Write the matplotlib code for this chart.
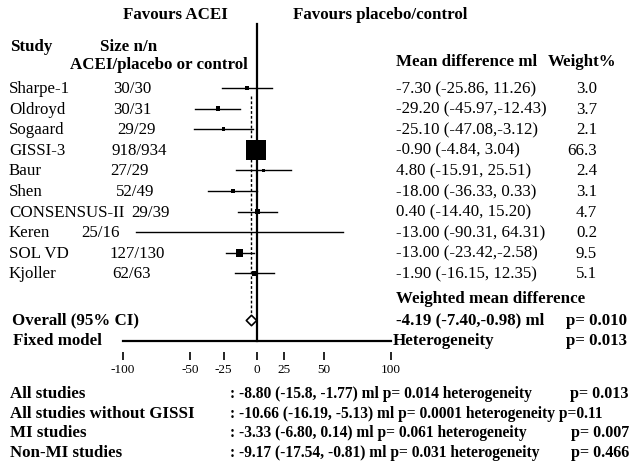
import matplotlib.pyplot as plt

plt.rcParams["font.family"] = ["Liberation Serif", "DejaVu Serif"]
plt.rcParams["font.size"] = 12.2

# data
studies = ["Sharpe-1", "Oldroyd", "Sogaard", "GISSI-3", "Baur", "Shen",
           "CONSENSUS-II", "Keren", "SOL VD", "Kjoller"]
sizes = ["30/30", "30/31", "29/29", "918/934", "27/29", "52/49",
         "29/39", "25/16", "127/130", "62/63"]
mean_diff = [-7.30, -29.20, -25.10, -0.90, 4.80, -18.00, 0.40, -13.00, -13.00, -1.90]
ci_low = [-25.86, -45.97, -47.08, -4.84, -15.91, -36.33, -14.40, -90.31, -23.42, -16.15]
ci_high = [11.26, -12.43, -3.12, 3.04, 25.51, 0.33, 15.20, 64.31, -2.58, 12.35]
weights = [3.0, 3.7, 2.1, 66.3, 2.4, 3.1, 4.7, 0.2, 9.5, 5.1]
md_labels = ["-7.30 (-25.86, 11.26)", "-29.20 (-45.97,-12.43)", "-25.10 (-47.08,-3.12)",
             "-0.90 (-4.84, 3.04)", "4.80 (-15.91, 25.51)", "-18.00 (-36.33, 0.33)",
             "0.40 (-14.40, 15.20)", "-13.00 (-90.31, 64.31)", "-13.00 (-23.42,-2.58)",
             "-1.90 (-16.15, 12.35)"]
overall = -4.19
tick_labels = ["-100", "-50", "-25", "0", "25", "50", "100"]
tick_pos = [-100, -50, -25, 0, 20, 50, 100]   # as drawn in the original

summary_names = ["All studies", "All studies without GISSI", "MI studies", "Non-MI studies"]
summary_text = [": -8.80 (-15.8, -1.77) ml p= 0.014 heterogeneity",
                ": -10.66 (-16.19, -5.13) ml p= 0.0001 heterogeneity p=0.11",
                ": -3.33 (-6.80, 0.14) ml p= 0.061 heterogeneity",
                ": -9.17 (-17.54, -0.81) ml p= 0.031 heterogeneity"]
summary_p = ["p= 0.013", "", "p= 0.007", "p= 0.466"]

W, H = 632, 464
fig = plt.figure(figsize=(W / 100, H / 100), dpi=100)
ax = fig.add_axes([0, 0, 1, 1])
# 0 at 257 px, 1.34 px per ml; rows 20.6 px apart starting at 89 px
ax.set_xlim(-257 / 1.34, (W - 257) / 1.34)
ax.set_ylim((H - 89) / 20.6, -89 / 20.6)
ax.axis("off")

rows = list(range(len(studies)))
tr = ax.get_yaxis_transform()


def px(x):
    return x / W


# study lines and boxes
for r, lo, hi in zip(rows, ci_low, ci_high):
    ax.plot([lo, hi], [r, r], color="black", lw=1)
ax.scatter(mean_diff, rows, s=[w * 3.1 for w in weights], marker="s",
           color="black", zorder=3, linewidths=0)

# reference line, pooled dotted line, diamond
ax.plot([0, 0], [-3.1, 12.28], color="black", lw=1.6)
ax.plot([overall, overall], [0.4, 11.05], color="black", lw=1, ls=(0, (2, 1.5)))
ax.scatter([overall], [11.25], marker="D", s=28, facecolor="white",
           edgecolor="black", linewidths=1.2, zorder=3)
ax.plot([-100, 100], [12.28, 12.28], color="black", lw=1.6)

# headers
ax.text(px(175), -3.6, "Favours ACEI", transform=tr, ha="center", va="center", weight="bold")
ax.text(px(380), -3.6, "Favours placebo/control", transform=tr, ha="center", va="center", weight="bold")
ax.text(px(10), -2.05, "Study", transform=tr, va="center", weight="bold")
ax.text(px(100), -2.05, "Size n/n", transform=tr, va="center", weight="bold")
ax.text(px(70), -1.18, "ACEI/placebo or control", transform=tr, va="center", weight="bold")
ax.text(px(396), -1.3, "Mean difference ml", transform=tr, va="center", weight="bold")
ax.text(px(548), -1.3, "Weight%", transform=tr, va="center", weight="bold")

# study rows
size_x = [113, 113, 117, 112, 110, 116, 131, 81, 110, 112]
for r, name, sz, sx, md, w in zip(rows, studies, sizes, size_x, md_labels, weights):
    ax.text(px(9), r, name, transform=tr, va="center")
    ax.text(px(sx), r, sz, transform=tr, va="center")
    ax.text(px(396), r, md, transform=tr, va="center")
    ax.text(px(597), r, f"{w:.1f}", transform=tr, va="center", ha="right")

# pooled result
ax.text(px(396), 10.2, "Weighted mean difference", transform=tr, va="center", weight="bold")
ax.text(px(12), 11.25, "Overall (95% CI)", transform=tr, va="center", weight="bold")
ax.text(px(396), 11.25, f"{overall:.2f} (-7.40,-0.98) ml", transform=tr, va="center", weight="bold")
ax.text(px(566), 11.25, "p= 0.010", transform=tr, va="center", weight="bold")
ax.text(px(13), 12.25, "Fixed model", transform=tr, va="center", weight="bold")
ax.text(px(393), 12.25, "Heterogeneity", transform=tr, va="center", weight="bold")
ax.text(px(566), 12.25, "p= 0.013", transform=tr, va="center", weight="bold")

# subgroup summaries
for i, (nm, txt, p) in enumerate(zip(summary_names, summary_text, summary_p)):
    y = 14.8 + i * 0.96
    ax.text(px(10), y, nm, transform=tr, va="center", weight="bold")
    ax.text(px(230), y, txt, transform=tr, va="center", weight="bold", fontsize=11.2)
    if p:
        ax.text(px(629), y, p, transform=tr, va="center", ha="right", weight="bold", fontsize=11.6)

# scale ticks below the axis line
sc = fig.add_axes([0, 1 - 361 / H, 1, 7 / H])
sc.set_xlim(ax.get_xlim())
sc.set_ylim(0, 1)
for s in sc.spines.values():
    s.set_visible(False)
sc.patch.set_visible(False)
sc.set_yticks([])
sc.set_xticks(tick_pos)
sc.set_xticklabels(tick_labels, fontsize=9.5)
sc.tick_params(axis="x", direction="in", length=6, width=1.2, pad=2)

fig.savefig("out.png", dpi=100)
